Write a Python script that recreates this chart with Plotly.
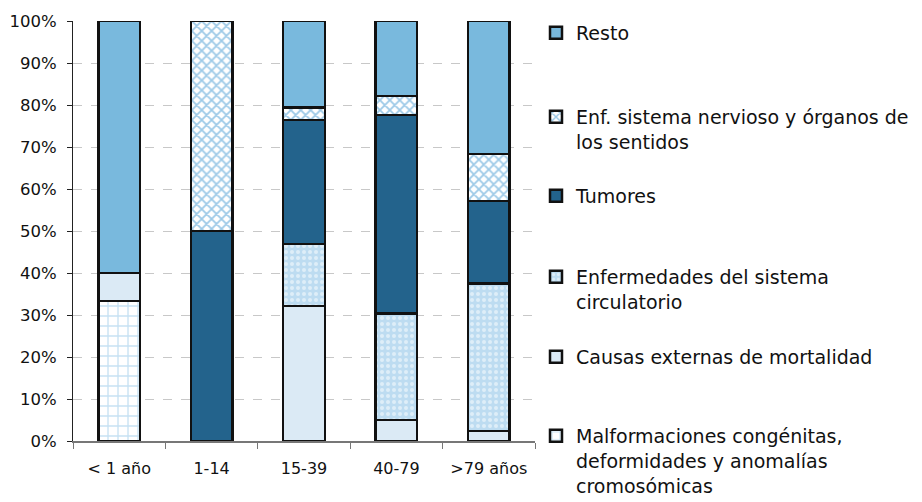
import plotly.graph_objects as go

categories = ["< 1 año", "1-14", "15-39", "40-79", ">79 años"]
malformaciones = [33.3, 0, 0, 0, 0]
causas_externas = [6.7, 0, 32.2, 5.0, 2.4]
circulatorio = [0, 0, 14.7, 25.4, 35.1]
tumores = [0, 50.0, 29.5, 47.2, 19.6]
nervioso = [0, 50.0, 3.0, 4.6, 11.2]
resto = [60.0, 0, 20.6, 17.8, 31.7]
y_tick_values = [0, 10, 20, 30, 40, 50, 60, 70, 80, 90, 100]
y_tick_labels = ["0%", "10%", "20%", "30%", "40%", "50%", "60%", "70%", "80%", "90%", "100%"]

names = [
    "Malformaciones congénitas,<br>deformidades y anomalías<br>cromosómicas",
    "Causas externas de mortalidad",
    "Enfermedades del sistema<br>circulatorio",
    "Tumores",
    "Enf. sistema nervioso y órganos de<br>los sentidos",
    "Resto",
]
series = [malformaciones, causas_externas, circulatorio, tumores, nervioso, resto]
styles = [
    dict(color="white", pattern=dict(shape="+", fgcolor="#8ec4e6", bgcolor="white", size=10, solidity=0.25)),
    dict(color="#dbeaf5"),
    dict(color="#bddcf1", pattern=dict(shape=".", fgcolor="white", bgcolor="#bddcf1", size=6, solidity=0.35)),
    dict(color="#23638c"),
    dict(color="white", pattern=dict(shape="x", fgcolor="#3a94d0", bgcolor="white", size=7, solidity=0.45)),
    dict(color="#79b9dd"),
]
# legend box tops (pixels from top of figure)
legend_tops = [417, 338, 258, 177, 98, 14]

fig = go.Figure()
legends = {}
for i, (nm, vals, st, top) in enumerate(zip(names, series, styles, legend_tops)):
    lg = "legend" if i == 0 else f"legend{i+1}"
    fig.add_trace(go.Bar(
        x=categories, y=vals, name=nm,
        legend=lg,
        marker=dict(**st, line=dict(color="#111111", width=2.5)),
        width=0.45,
    ))
    legends[lg] = dict(
        xref="container", yref="container",
        x=536 / 922, xanchor="left",
        y=1 - top / 502, yanchor="top",
        valign="top", font=dict(size=19), itemwidth=30,
        bgcolor="rgba(0,0,0,0)",
    )

fig.update_layout(
    barmode="stack",
    width=922, height=502,
    margin=dict(l=73, r=387, t=21, b=61),
    plot_bgcolor="white", paper_bgcolor="white",
    font=dict(family="DejaVu Sans, sans-serif", color="#111111"),
    showlegend=True,
    **legends,
    yaxis=dict(
        range=[0, 100], tickmode="array", tickvals=y_tick_values, ticktext=y_tick_labels,
        tickfont=dict(size=16.5), automargin=False, ticklabelstandoff=7,
        showgrid=True, gridcolor="#c8c8c8", griddash="dash", gridwidth=1,
        showline=True, linecolor="#222222", linewidth=1,
        ticks="outside", ticklen=5, tickcolor="#222222",
        zeroline=False,
    ),
    xaxis=dict(
        tickfont=dict(size=16), automargin=False, ticklabelstandoff=12,
        showline=True, linecolor="#777777", linewidth=2,
        ticks="outside", tickson="boundaries", ticklen=6, tickcolor="#777777",
        showgrid=False,
    ),
)

fig.write_html(
    "out.html",
    config={"displayModeBar": False},
    post_script="document.body.style.margin='0';",
)
